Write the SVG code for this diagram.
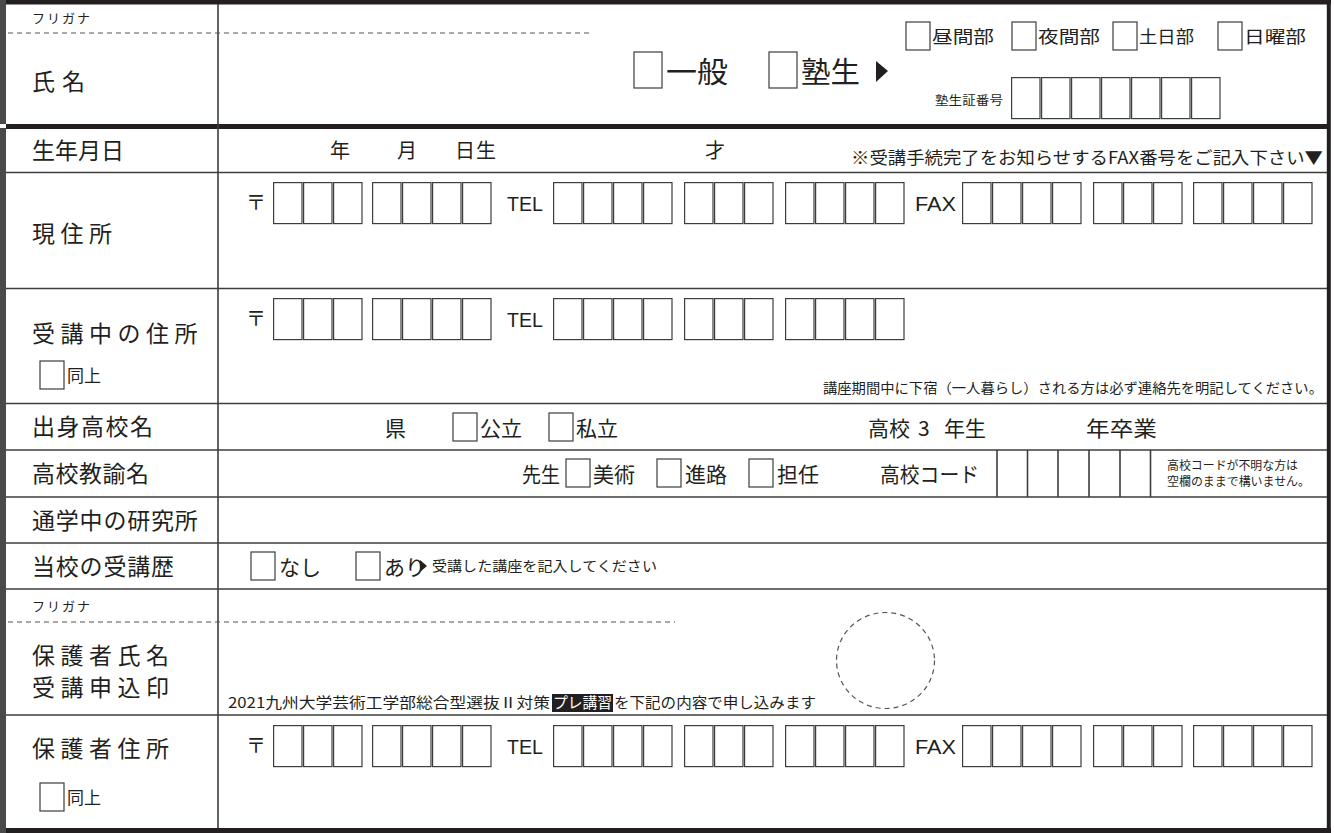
<svg xmlns="http://www.w3.org/2000/svg" xmlns:xlink="http://www.w3.org/1999/xlink" width="1334" height="833" viewBox="0 0 1334 833">
<style>
.t{font-family:"Noto Sans CJK JP","Noto Sans",sans-serif;fill:#231f20}
.lb{font-size:23px}
.sp{letter-spacing:5.5px}
.lt{font-family:"Liberation Sans","Noto Sans",sans-serif;fill:#231f20}
.ln{stroke:#3d3d3d;stroke-width:1.6;fill:none}
.box{fill:none;stroke:#3d3d3d;stroke-width:1.2}
.dash{stroke:#555;stroke-width:1.2;stroke-dasharray:5 4;fill:none}
.blk{fill:#231f20}
</style>
<defs>
<g id="b3">
<rect class="box" x="0.6" y="0.6" width="28.4" height="41"/>
<rect class="box" x="30.6" y="0.6" width="28.4" height="41"/>
<rect class="box" x="60.6" y="0.6" width="28.4" height="41"/>
</g>
<g id="b4">
<use xlink:href="#b3"/>
<rect class="box" x="90.6" y="0.6" width="28.4" height="41"/>
</g>
<g id="addrPart">
<text class="t" x="246" y="28" font-size="20">〒</text>
<use xlink:href="#b3" x="273"/>
<use xlink:href="#b4" x="372"/>
<text class="lt" x="507" y="29" font-size="21" textLength="36" lengthAdjust="spacingAndGlyphs">TEL</text>
<use xlink:href="#b4" x="553"/>
<use xlink:href="#b3" x="684"/>
<use xlink:href="#b4" x="785"/>
</g>
<g id="addrFull">
<use xlink:href="#addrPart"/>
<text class="lt" x="915" y="29" font-size="21" textLength="41" lengthAdjust="spacingAndGlyphs">FAX</text>
<use xlink:href="#b4" x="962"/>
<use xlink:href="#b3" x="1093"/>
<use xlink:href="#b4" x="1193"/>
</g>
<rect id="cb" class="box" x="0" y="0" width="24" height="28"/>
<rect id="cbL" class="box" x="0" y="0" width="28" height="36"/>
</defs>

<g id="frame">
<rect x="0" y="0" width="1331" height="833" fill="#fff"/>
<rect x="0" y="0" width="1331" height="4.5" class="blk"/>
<rect x="0" y="828" width="1331" height="5" class="blk"/>
<rect x="1326.8" y="0" width="4" height="833" class="blk"/>
<rect x="0" y="0" width="6" height="833" fill="#4a4a4a"/>
<rect x="0" y="124" width="6" height="4" fill="#fff"/>
<rect x="6" y="124" width="1322" height="5" class="blk"/>
<line class="ln" x1="218" y1="4" x2="218" y2="828"/>
<line class="ln" x1="6" y1="172.5" x2="1327" y2="172.5"/>
<line class="ln" x1="6" y1="288.5" x2="1327" y2="288.5"/>
<line class="ln" x1="6" y1="403.5" x2="1327" y2="403.5"/>
<line class="ln" x1="6" y1="450" x2="1327" y2="450"/>
<line class="ln" x1="6" y1="497" x2="1327" y2="497"/>
<line class="ln" x1="6" y1="543" x2="1327" y2="543"/>
<line class="ln" x1="6" y1="589" x2="1327" y2="589"/>
<line class="ln" x1="6" y1="715" x2="1327" y2="715"/>
<line class="dash" x1="8" y1="33" x2="590" y2="33"/>
<line class="dash" x1="8" y1="622" x2="675" y2="622"/>
</g>

<g id="name">
<text class="t" x="32" y="23" font-size="13" letter-spacing="2">フリガナ</text>
<text class="t lb" x="32" y="90" letter-spacing="7">氏名</text>
<use xlink:href="#cbL" x="634" y="52"/>
<text class="t" x="666" y="83" font-size="29" textLength="62" lengthAdjust="spacingAndGlyphs">一般</text>
<use xlink:href="#cbL" x="769" y="52"/>
<text class="t" x="801" y="83" font-size="29" textLength="59" lengthAdjust="spacingAndGlyphs">塾生</text>
<polygon points="876,61 888,71 876,82" class="blk"/>
<use xlink:href="#cb" x="906" y="22"/>
<text class="t" x="932" y="43" font-size="17" textLength="62" lengthAdjust="spacingAndGlyphs">昼間部</text>
<use xlink:href="#cb" x="1012" y="22"/>
<text class="t" x="1038" y="43" font-size="17" textLength="62" lengthAdjust="spacingAndGlyphs">夜間部</text>
<use xlink:href="#cb" x="1113" y="22"/>
<text class="t" x="1139" y="43" font-size="17" textLength="55" lengthAdjust="spacingAndGlyphs">土日部</text>
<use xlink:href="#cb" x="1218" y="22"/>
<text class="t" x="1244" y="43" font-size="17" textLength="62" lengthAdjust="spacingAndGlyphs">日曜部</text>
<text class="t" x="935" y="105" font-size="12" textLength="68" lengthAdjust="spacingAndGlyphs">塾生証番号</text>
<g transform="translate(1011,77)">
<use xlink:href="#b4"/>
<use xlink:href="#b3" x="120"/>
</g>
</g>

<g id="birth">
<text class="t lb" x="32" y="159">生年月日</text>
<text class="t" x="330" y="158" font-size="20">年</text>
<text class="t" x="397" y="158" font-size="20">月</text>
<text class="t" x="455" y="158" font-size="20" letter-spacing="1">日生</text>
<text class="t" x="705" y="158" font-size="20">才</text>
<text class="t" x="851" y="164" font-size="17" textLength="472" lengthAdjust="spacingAndGlyphs">※受講手続完了をお知らせするFAX番号をご記入下さい▼</text>
</g>

<g id="address">
<text class="t lb sp" x="32" y="242">現住所</text>
<use xlink:href="#addrFull" y="182"/>
</g>

<g id="stay-address">
<text class="t lb sp" x="32" y="342">受講中の住所</text>
<use xlink:href="#cb" x="40" y="361"/>
<text class="t" x="67" y="382" font-size="17">同上</text>
<use xlink:href="#addrPart" y="298"/>
<text class="t" x="823" y="393" font-size="14" textLength="500" lengthAdjust="spacingAndGlyphs">講座期間中に下宿（一人暮らし）される方は必ず連絡先を明記してください。</text>
</g>

<g id="school">
<text class="t lb" x="32" y="435" letter-spacing="1.5">出身高校名</text>
<text class="t" x="385" y="436" font-size="21">県</text>
<use xlink:href="#cb" x="453" y="413"/>
<text class="t" x="480" y="436" font-size="21">公立</text>
<use xlink:href="#cb" x="549" y="413"/>
<text class="t" x="576" y="436" font-size="21">私立</text>
<text class="t" x="868" y="436" font-size="21">高校</text>
<text class="t" x="918" y="436" font-size="21">3</text>
<text class="t" x="944" y="436" font-size="21">年生</text>
<text class="t" x="1086" y="436" font-size="21" textLength="71" lengthAdjust="spacingAndGlyphs">年卒業</text>
</g>

<g id="teacher">
<text class="t lb" x="32" y="482" letter-spacing="0.5">高校教諭名</text>
<text class="t" x="522" y="482" font-size="21" textLength="38" lengthAdjust="spacingAndGlyphs">先生</text>
<use xlink:href="#cb" x="566" y="459"/>
<text class="t" x="593" y="482" font-size="21">美術</text>
<use xlink:href="#cb" x="657" y="459"/>
<text class="t" x="685" y="482" font-size="21">進路</text>
<use xlink:href="#cb" x="749" y="459"/>
<text class="t" x="777" y="482" font-size="21">担任</text>
<text class="t" x="880" y="482" font-size="21" textLength="99" lengthAdjust="spacingAndGlyphs">高校コード</text>
<g class="ln">
<line x1="997" y1="450" x2="997" y2="497"/>
<line x1="1027.5" y1="450" x2="1027.5" y2="497"/>
<line x1="1058" y1="450" x2="1058" y2="497"/>
<line x1="1089" y1="450" x2="1089" y2="497"/>
<line x1="1120" y1="450" x2="1120" y2="497"/>
<line x1="1150.5" y1="450" x2="1150.5" y2="497"/>
</g>
<text class="t" x="1167" y="470" font-size="12" textLength="131" lengthAdjust="spacingAndGlyphs">高校コードが不明な方は</text>
<text class="t" x="1167" y="486" font-size="12" textLength="143" lengthAdjust="spacingAndGlyphs">空欄のままで構いません。</text>
</g>

<g id="lab">
<text class="t lb" x="32" y="529" letter-spacing="0.8">通学中の研究所</text>
</g>

<g id="history">
<text class="t lb" x="32" y="575" letter-spacing="0.8">当校の受講歴</text>
<use xlink:href="#cb" x="251" y="552"/>
<text class="t" x="279" y="575" font-size="21">なし</text>
<use xlink:href="#cb" x="356" y="552"/>
<text class="t" x="384" y="575" font-size="21">あり</text>
<polygon points="420,560 427,566 420,572" class="blk"/>
<text class="t" x="432" y="571" font-size="14" textLength="225" lengthAdjust="spacingAndGlyphs">受講した講座を記入してください</text>
</g>

<g id="guardian">
<text class="t" x="32" y="611" font-size="13" letter-spacing="2">フリガナ</text>
<text class="t lb sp" x="32" y="664">保護者氏名</text>
<text class="t lb sp" x="32" y="696">受講申込印</text>
<text class="t" x="228" y="708" font-size="15" textLength="322" lengthAdjust="spacingAndGlyphs">2021九州大学芸術工学部総合型選抜Ⅱ対策</text>
<rect x="552" y="694" width="61" height="18" class="blk"/>
<text x="553" y="708" font-size="15" textLength="59" lengthAdjust="spacingAndGlyphs" style="font-family:'Noto Sans CJK JP',sans-serif;fill:#fff">プレ講習</text>
<text class="t" x="614" y="708" font-size="15" textLength="202" lengthAdjust="spacingAndGlyphs">を下記の内容で申し込みます</text>
<ellipse class="dash" cx="885.5" cy="660.5" rx="49" ry="48"/>
</g>

<g id="guardian-address">
<text class="t lb sp" x="32" y="757">保護者住所</text>
<use xlink:href="#addrFull" y="725"/>
<use xlink:href="#cb" x="40" y="783"/>
<text class="t" x="67" y="804" font-size="17">同上</text>
</g>
</svg>
